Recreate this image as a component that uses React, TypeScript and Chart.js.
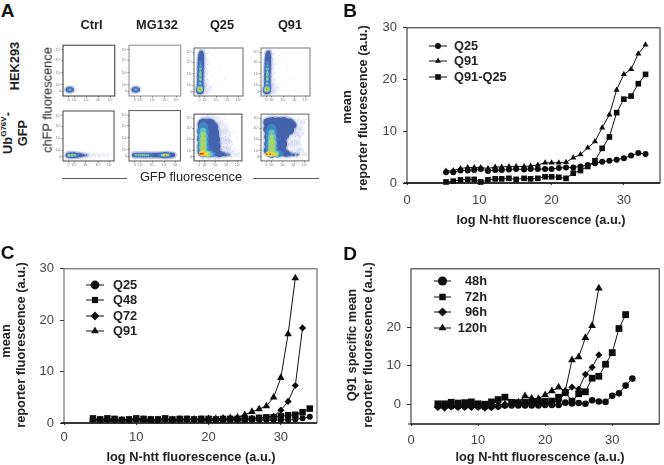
import React, { useEffect, useRef } from "react";
import { Chart, registerables } from "chart.js";
import { drawPoint } from "chart.js/helpers";

Chart.register(...registerables);

const FONT = "'Liberation Sans', Arial, sans-serif";

// ---- Panel B data ----
const xB = [5.4,6.4,7.4,8.4,9.3,10.2,11.2,12.2,13.1,14.1,15.1,16.2,17.1,18.1,19.1,20,21,22,23,24,25,26,27,28,29,30,31,32,33];
const bQ25 = [2.1,2.1,2.4,2.4,2.5,2.7,2.3,2.5,2.5,2.6,2.7,2.6,2.7,2.7,2.7,2.7,2.9,3,3,3.2,3.5,3.8,4.1,4.3,4.5,4.8,5.3,5.8,5.6];
const bQ91 = [2.3,2.4,2.8,3,3,3,2.8,3.1,3.1,3.2,3.2,3.2,3.3,3.5,3.9,3.9,3.9,4,4.9,5.5,6.8,8,10.7,13.2,18,21,22,25,26.7];
const bDiff = [0.2,0.35,0.6,0.7,0.7,0.2,0.6,0.8,0.8,0.9,0.7,0.9,0.8,0.9,1.2,1.2,1.1,0.9,1.9,2.4,3.2,4.3,6.7,8.9,13.6,16.2,16.8,19.2,21];

// ---- Panel C data ----
const xC = [4,5,6,7,8,9,10,11,12,13,14,15,16,17,18,19,20,21,22,23,24,25,26,27,28,29,30,31,32,33,34];
const cQ25 = [0.7,0.6,0.7,0.6,0.5,0.6,0.7,0.6,0.6,0.5,0.7,0.6,0.6,0.7,0.6,0.6,0.6,0.6,0.6,0.6,0.6,0.6,0.6,0.6,0.6,0.6,0.6,0.6,0.7,0.9,1.2];
const cQ48 = [0.9,0.7,0.9,0.8,0.6,0.7,0.9,0.8,0.7,0.7,0.9,0.7,0.8,0.8,0.7,0.8,0.8,0.7,0.8,0.8,0.8,0.8,0.8,1,1.1,1.1,1.3,1.5,1.6,2.1,2.8];
const cQ72 = [0.6,0.5,0.6,0.6,0.6,0.5,0.7,0.6,0.6,0.6,0.7,0.6,0.6,0.7,0.7,0.7,0.7,0.7,0.7,0.8,0.8,0.9,0.9,1,1.1,1.3,2.5,4.2,7.3,18.5];
const cQ91 = [0.6,0.6,0.6,0.6,0.5,0.6,0.7,0.6,0.6,0.6,0.7,0.6,0.7,0.7,0.7,0.7,0.8,0.8,0.9,1,1.1,1.6,2.2,2.7,3.3,5,8.8,17.3,28.2];

// ---- Panel D data ----
const xD = [4,5,6,7,8,9,10,11,12,13,14,15,16,17,18,19,20,21,22,23,24,25,26,27,28,29,30,31,32,33];
const d48 = [-0.5,-0.5,-0.4,-0.5,-0.5,-0.4,-0.5,-0.6,-0.5,-0.4,-0.2,-0.2,-0.2,-0.2,-0.2,-0.2,-0.1,-0.1,-0.1,0.5,0.3,0.4,0.2,1.1,0.8,0.7,2.3,2.9,4.9,6.7];
const d72 = [0.2,0.2,0.6,0.4,0.5,0.7,0.2,0.1,0.7,1.3,1.9,0.6,0.5,0.6,0.7,0.7,0.8,0.9,1.9,3.1,0.9,2.8,3.3,6.8,7.3,10.4,13.4,19.6,23.2];
const d96 = [-0.7,-0.9,-0.6,-0.7,-0.7,-0.7,-0.7,-0.9,-0.8,-0.6,-0.2,0,0,0.1,0.2,0.2,0.4,0.6,0.9,3,4.5,4,7.8,9.6,12.8];
const d120 = [-0.3,-0.3,-0.2,-0.2,-0.1,-0.1,-0.2,-0.3,-0.2,0,0.1,0.3,0.6,2.2,1.6,1.5,2.5,3.5,4.5,3.5,11.5,12.3,17.2,20.3,30];

const yTicksBC = [0, 10, 20, 30];
const yTicksD = [0, 10, 20];
const xTicksAll = [0, 10, 20, 30];

// ---- Panel A: density layers, [x %, y %, bubble r] ----
const miniTickPos = [11, 22, 45, 69, 91];
const miniYTickPos = [9, 22, 46, 70, 91];
const miniTickLabels = ["0", "10²", "10³", "10⁴", "10⁵"];

const spotBlue = [[9,12.5,2.2],[13,12.5,2.6],[17,12.5,2.2]];
const spotMid = [[11,12.5,1.8],[15,12.5,1.8]];
const spotCyan = [[13,12.5,1.2]];
const spotHaze = [[13,12.5,4.2]];

const colBlue = [[12,12,4],[13,20,3.4],[13,28,3.3],[13,36,3.3],[13,44,3.3],[13.5,52,3.3],[13.5,60,3.3],[14,68,3.3],[14,76,3.2],[14.5,84,3],[15,90,2.2]];
const colMid = [[12.5,20,2.6],[13,30,2.3],[13,40,2.3],[13,50,2.3],[13,60,2.2],[13.5,70,1.8]];
const colCyan = [[12,14,3.2],[12.5,26,1.5],[13,36,1.7],[13,46,1.7],[13,56,1.5],[13,64,1.1]];
const colGreen = [[12,14,2.3],[13,34,0.9],[13,42,1],[13,50,0.9]];
const colYellow = [[12,14,1.5]];
const colRed = [[12,14,0.7]];
const colHaze = [[14,12,7],[18,30,6],[18,50,6],[18,70,6],[17,88,5],[28,15,5]];
const colSpecks = [[26,8],[30,14],[34,18],[24,26],[28,34],[26,46],[25,58],[28,66],[24,76],[27,88],[36,40],[42,12],[48,20],[54,62],[38,84],[62,34],[70,14],[30,94],[22,96],[10,4],[20,5]];

const ctrlBandHaze = [[14,11.7,5],[50,11.7,3],[60,11.7,2.2],[70,11.7,2],[80,11.7,1.6],[88,11.7,1.2]];
const ctrlBandBlue = [[10,11.7,2.5],[16,11.7,2.8],[22,11.7,2.8],[28,11.7,2.5],[34,11.7,2.1],[40,11.7,1.5],[46,11.7,0.9]];
const ctrlBandMid = [[11,11.7,2],[17,11.7,2.1],[23,11.7,2],[29,11.7,1.3]];
const ctrlBandCyan = [[12,11.7,1.5],[18,11.7,1.5],[24,11.7,1.2]];
const ctrlBandGreen = [[12,11.7,1],[18,11.7,1],[22,11.7,0.8]];
const ctrlBandYellow = [[11,11.7,0.7]];
const ctrlSpecks = [[52,14],[56,9],[60,13],[64,10],[68,14],[72,10],[76,12],[80,14],[84,10],[88,12],[48,8],[62,16]];

const mgBandHaze = [[12,11.7,4],[30,11.7,4],[50,11.7,4],[72,11.7,4.5],[88,11.7,3]];
const mgBandBlue = [[10,11.7,2.2],[16,11.7,2.4],[22,11.7,2.4],[28,11.7,2.4],[34,11.7,2.4],[40,11.7,2.4],[46,11.7,2.3],[52,11.7,2.3],[58,11.7,2.5],[64,11.7,2.8],[70,11.7,3],[76,11.7,2.8],[82,11.7,2.5],[86,11.7,2]];
const mgBandMid = [[12,11.7,1.8],[20,11.7,1.9],[28,11.7,1.9],[36,11.7,1.9],[44,11.7,1.5],[60,11.7,1.6],[66,11.7,2.2],[72,11.7,2.3],[78,11.7,2]];
const mgBandCyan = [[14,11.7,1.3],[22,11.7,1.4],[30,11.7,1.4],[38,11.7,1.2],[64,11.7,1.4],[70,11.7,1.8],[76,11.7,1.5]];
const mgBandGreen = [[18,11.7,0.9],[26,11.7,1],[34,11.7,0.9],[66,11.7,1.2],[72,11.7,1.4],[76,11.7,1]];
const mgBandYellow = [[68,11.7,1],[73,11.7,1]];
const mgBandRed = [[71,11.7,0.7]];

const q25Haze = [[22,92,4],[34,92,4],[48,85,5],[58,70,7],[62,52,8],[64,34,8],[66,20,6],[80,16,4],[45,6,4],[22,5,3],[92,14,2.5]];
const q25Blue = [[20,78,6],[32,78,6],[39,72,5.5],[19,64,6],[32,64,6.5],[40,60,6],[18,48,5.5],[32,48,6.5],[42,46,6],[18,32,5.2],[32,32,6.5],[43,32,6],[18,20,5.2],[32,20,5.5],[44,20,5],[53,15,3.2],[61,14,2],[67,13,1.4],[73,13,0.9]];
const q25Mid = [[20,74,4.5],[19,62,6],[19,47,6],[20,32,6],[21,21,6],[33,16,3.8],[40,15,2.5]];
const q25Cyan = [[19,64,3.2],[19,53,4.4],[19,41,4.4],[19,29,4.4],[20,19,4.4],[30,15,3.2],[36,14,2]];
const q25Green = [[19,57,2.4],[19,47,3],[19,37,3],[19,27,3],[19,17,3.6],[28,15,2.7]];
const q25Yellow = [[15,15.5,2.4],[21,15.5,2.4],[26,15,1.8],[19,21,1.3]];
const q25Red = [[13,15.5,1],[16,15.5,1],[19,15.5,0.9]];
const q25Specks = [[56,84],[60,78],[66,72],[70,66],[62,62],[68,58],[74,54],[72,46],[66,44],[78,42],[82,36],[70,34],[76,30],[84,26],[72,24],[80,20],[88,22],[94,16],[64,88],[72,80],[78,70],[84,60],[90,48],[60,50],[58,38],[74,38],[68,28],[86,12],[92,10],[50,92],[40,96],[28,97],[76,60],[66,52],[62,30],[58,24],[70,18],[78,10],[56,8],[44,4],[30,3],[18,2]];

const q91Haze = [[75,78,6],[80,62,5],[68,48,8],[70,28,8],[82,20,4],[50,92,4],[20,92,4],[20,5,3],[92,14,2.5],[88,84,3]];
const q91Blue = [[14,82,4.5],[24,82,5.5],[36,82,5.5],[48,82,5.5],[60,80,5],[68,76,3],[14,68,4.5],[26,68,6],[38,68,6],[50,68,6],[60,66,4.5],[18,52,5.5],[30,52,6.5],[42,52,6.5],[52,56,3.5],[18,36,5.5],[30,36,6.5],[42,36,6],[16,22,5],[30,22,6],[42,22,5.5],[52,16,3.4],[60,14,2.2],[68,13,1.5],[76,13,1]];
const q91Mid = [[22,70,4.5],[21,58,6],[22,44,6],[22,30,6.5],[22,19,6],[34,16,4],[42,15,2.6]];
const q91Cyan = [[22,60,3.2],[23,50,4.2],[23,38,4.6],[23,27,4.6],[22,18,4.2],[32,15,3]];
const q91Green = [[23,52,2.2],[23,42,3],[23,33,3.2],[22,23,3.2],[20,16,3.4],[30,15,2.6]];
const q91Yellow = [[13,14.5,2.2],[20,14.5,2.4],[27,14.5,1.8]];
const q91Red = [[12,14.5,0.9],[19,14.5,0.9]];
const q91Specks = [[78,90],[84,86],[90,80],[86,72],[92,68],[82,66],[76,60],[88,58],[72,52],[80,50],[86,44],[66,42],[74,38],[82,34],[62,30],[70,28],[78,24],[88,22],[66,22],[94,14],[86,12],[74,8],[94,88],[60,94],[44,95],[30,96],[62,46],[58,34],[70,58],[90,30],[96,50],[56,8],[40,4],[24,3],[72,18],[80,16]];

const levelColors = ["rgba(90,110,205,0.10)", "#4463ad", "#4583c4", "#62bfc6", "#a8d56a", "#f2d23c", "#d8351c"];
const haloColor = "rgba(70,95,180,0.24)";
const speckColor = "rgba(70,90,190,0.5)";
const haloGrow = 1.6;
const speckR = 0.45;

type Tuple = number[];
function layers(haze: Tuple[], blue: Tuple[], mid: Tuple[], cyan: Tuple[], green: Tuple[], yellow: Tuple[], red: Tuple[], specks: Tuple[] = []) {
  const mk = (pts: Tuple[], order: number, backgroundColor: string, grow = 0) => ({
    type: "bubble" as const,
    order,
    backgroundColor,
    borderWidth: 0,
    data: pts.map((p) => ({ x: p[0], y: p[1], r: (p[2] ?? speckR) + grow })),
  });
  return [
    mk(specks, 30, speckColor),
    mk(blue, 29, haloColor, haloGrow),
    ...[haze, blue, mid, cyan, green, yellow, red].map((pts, i) => mk(pts, 20 - i, levelColors[i])),
  ];
}

const framePlugin = {
  id: "frame",
  afterDraw(chart: any, _a: any, o: any) {
    const { left, top, right, bottom } = chart.chartArea;
    const c = chart.ctx;
    c.save();
    c.strokeStyle = o.color || "#222";
    c.lineWidth = o.width || 1;
    c.strokeRect(left, top, right - left, bottom - top);
    if (o.bottomWidth) {
      c.lineWidth = o.bottomWidth;
      c.strokeStyle = o.bottomColor || "#111";
      c.beginPath();
      c.moveTo(left - 3, bottom);
      c.lineTo(right, bottom);
      c.stroke();
    }
    c.restore();
  },
};

const lineLegendPlugin = {
  id: "lineLegend",
  afterDraw(chart: any, _a: any, o: any) {
    if (!o.ys) return;
    const c = chart.ctx;
    c.save();
    c.font = `bold 12.8px ${FONT}`;
    c.textBaseline = "middle";
    c.textAlign = o.align || "left";
    const order = o.order as number[];
    order.forEach((dsIndex, i) => {
      const ds = chart.data.datasets[dsIndex];
      const y = o.ys[i];
      c.strokeStyle = "#111";
      c.lineWidth = 1;
      c.beginPath();
      c.moveTo(o.x0, y);
      c.lineTo(o.x1, y);
      c.stroke();
      c.fillStyle = "#111";
      c.strokeStyle = "#111";
      drawPoint(c, { pointStyle: ds.pointStyle, rotation: 0, radius: o.legendRadius || ds.pointRadius, borderWidth: 0 } as any, (o.x0 + o.x1) / 2, y);
      c.fillStyle = "#222";
      c.fillText(ds.label, o.tx, y + 0.5);
    });
    c.restore();
  },
};

function series(label: string, xs: number[], ys: number[], pointStyle: string, pointRadius: number, order: number) {
  return {
    label,
    data: ys.map((y, i) => ({ x: xs[i], y })),
    pointStyle,
    pointRadius,
    pointBorderWidth: 0,
    pointBackgroundColor: "#0c0c0c",
    pointBorderColor: "#0c0c0c",
    borderColor: "#111",
    borderWidth: 1,
    tension: 0,
    order,
    clip: false,
  };
}

function fixedTicks(vals: number[]) {
  return (scale: any) => {
    scale.ticks = vals.map((value) => ({ value }));
  };
}

type Box = { left: number; top: number; width: number; height: number };

function PlotCanvas({ box, config, blur }: { box: Box; config: any; blur?: number }) {
  const ref = useRef<HTMLCanvasElement>(null);
  useEffect(() => {
    const chart = new Chart(ref.current!, config);
    return () => chart.destroy();
  }, []);
  return (
    <canvas
      ref={ref}
      width={box.width}
      height={box.height}
      style={{ position: "absolute", left: box.left, top: box.top, width: box.width, height: box.height, filter: blur ? `blur(${blur}px)` : undefined }}
    />
  );
}

function lineConfig(opts: {
  datasets: any[]; xMax: number; yMin: number; yMax: number; yTicks: number[]; box: Box; xPad: number;
  plot: { l: number; t: number; r: number; b: number }; frame: any; legend: any;
}) {
  const { box, plot } = opts;
  return {
    type: "line",
    data: { datasets: opts.datasets },
    plugins: [framePlugin, lineLegendPlugin],
    options: {
      animation: false,
      responsive: false,
      events: [],
      layout: { padding: { top: plot.t - box.top, right: box.left + box.width - plot.r, left: 0, bottom: 0 } },
      plugins: { legend: { display: false }, tooltip: { enabled: false }, frame: opts.frame, lineLegend: opts.legend },
      scales: {
        x: {
          type: "linear", min: 0, max: opts.xMax,
          grid: { display: true, drawOnChartArea: false, drawTicks: true, tickLength: 2, tickColor: "#333", lineWidth: 1 },
          border: { display: false },
          afterBuildTicks: fixedTicks(xTicksAll),
          afterFit: (s: any) => { s.height = box.top + box.height - plot.b; },
          ticks: { color: "#444", padding: opts.xPad, maxRotation: 0, autoSkip: false, font: { family: FONT, size: 13 } },
        },
        y: {
          type: "linear", min: opts.yMin, max: opts.yMax,
          grid: { display: true, drawOnChartArea: false, drawTicks: true, tickLength: 4, tickColor: "#333", lineWidth: 1 },
          border: { display: false },
          afterBuildTicks: fixedTicks(opts.yTicks),
          afterFit: (s: any) => { s.width = plot.l - box.left; },
          ticks: { color: "#444", padding: 6, autoSkip: false, font: { family: FONT, size: 13 } },
        },
      },
    },
  };
}

function miniConfig(ds: any[], frameColor: string) {
  const tick = (labels: string[], pos: number[]) => (v: number) => labels[pos.indexOf(v)] ?? "";
  return {
    type: "bubble",
    data: { datasets: ds },
    plugins: [framePlugin],
    options: {
      animation: false,
      responsive: false,
      events: [],
      layout: { padding: { top: 1, right: 1, left: 0, bottom: 0 } },
      plugins: { legend: { display: false }, tooltip: { enabled: false }, frame: { color: frameColor, width: 1 } },
      scales: {
        x: {
          type: "linear", min: 0, max: 100,
          grid: { display: true, drawOnChartArea: false, tickLength: 1.5, tickColor: "#555", lineWidth: 0.7 },
          border: { display: false },
          afterBuildTicks: fixedTicks(miniTickPos),
          afterFit: (s: any) => { s.height = 8; },
          ticks: { color: "#777", padding: 0.5, maxRotation: 0, autoSkip: false, font: { family: FONT, size: 3.6 }, callback: tick(miniTickLabels, miniTickPos) },
        },
        y: {
          type: "linear", min: 0, max: 100,
          grid: { display: true, drawOnChartArea: false, tickLength: 1.5, tickColor: "#555", lineWidth: 0.7 },
          border: { display: false },
          afterBuildTicks: fixedTicks(miniYTickPos),
          afterFit: (s: any) => { s.width = 12; },
          ticks: { color: "#777", padding: 0.5, autoSkip: false, font: { family: FONT, size: 3.6 }, callback: tick(miniTickLabels, miniYTickPos) },
        },
      },
    },
  };
}

const miniPlots = [
  { left: 63, top: 42, color: "#333", ds: layers(spotHaze, spotBlue, spotMid, spotCyan, [], [], []) },
  { left: 129, top: 42, color: "#888", ds: layers(spotHaze, spotBlue, spotMid, spotCyan, [], [], []) },
  { left: 194, top: 42, color: "#666", ds: layers(colHaze, colBlue, colMid, colCyan, colGreen, colYellow, colRed, colSpecks) },
  { left: 261, top: 42, color: "#777", ds: layers(colHaze, colBlue, colMid, colCyan, colGreen, colYellow, colRed, colSpecks) },
  { left: 63, top: 107, color: "#444", ds: layers(ctrlBandHaze, ctrlBandBlue, ctrlBandMid, ctrlBandCyan, ctrlBandGreen, ctrlBandYellow, [], ctrlSpecks) },
  { left: 129, top: 107, color: "#555", ds: layers(mgBandHaze, mgBandBlue, mgBandMid, mgBandCyan, mgBandGreen, mgBandYellow, mgBandRed) },
  { left: 194, top: 107, color: "#444", ds: layers(q25Haze, q25Blue, q25Mid, q25Cyan, q25Green, q25Yellow, q25Red, q25Specks) },
  { left: 261, top: 107, color: "#666", ds: layers(q91Haze, q91Blue, q91Mid, q91Cyan, q91Green, q91Yellow, q91Red, q91Specks) },
];

const boxB: Box = { left: 330, top: 14, width: 334, height: 200 };
const boxC: Box = { left: 0, top: 255, width: 330, height: 195 };
const boxD: Box = { left: 330, top: 255, width: 334, height: 195 };

const cfgB = lineConfig({
  box: boxB, plot: { l: 407, t: 24, r: 663, b: 183 }, xMax: 35, yMin: 0, yMax: 30, yTicks: yTicksBC, xPad: 8,
  datasets: [
    series("Q25", xB, bQ25, "circle", 3, 3),
    series("Q91", xB, bQ91, "triangle", 3.5, 2),
    series("Q91-Q25", xB, bDiff, "rect", 4, 1),
  ],
  frame: { color: "#222", width: 1, bottomWidth: 1.4 },
  legend: { order: [0, 1, 2], x0: 99, x1: 117, tx: 124, ys: [32, 47, 63] },
});

const cfgC = lineConfig({
  box: boxC, plot: { l: 64, t: 265, r: 317, b: 423 }, xMax: 35, yMin: 0, yMax: 30, yTicks: yTicksBC, xPad: 5,
  datasets: [
    series("Q25", xC, cQ25, "circle", 3, 1),
    series("Q48", xC, cQ48, "rect", 4.6, 2),
    series("Q72", xC, cQ72, "rectRot", 3.6, 3),
    series("Q91", xC, cQ91, "triangle", 4.4, 4),
  ],
  frame: { color: "#555", width: 1, bottomWidth: 1.4 },
  legend: { order: [0, 1, 2, 3], x0: 86, x1: 104, tx: 113, ys: [30, 45, 61, 76], legendRadius: 4.4 },
});

const cfgD = lineConfig({
  box: boxD, plot: { l: 411, t: 266, r: 663, b: 424 }, xMax: 37, yMin: -5, yMax: 35, yTicks: yTicksD, xPad: 6.5,
  datasets: [
    series("48h", xD, d48, "circle", 3.3, 1),
    series("72h", xD, d72, "rect", 4.8, 2),
    series("96h", xD, d96, "rectRot", 3.6, 3),
    series("120h", xD, d120, "triangle", 4.5, 4),
  ],
  frame: { color: "#222", width: 1, bottomWidth: 1.2 },
  legend: { order: [0, 1, 2, 3], x0: 104, x1: 121, tx: 157, align: "right", ys: [26, 42, 57, 73], legendRadius: 4.6 },
});

function Txt({ x, y, children, bold, size, rot, color, align }: any) {
  const tx = align === "left" ? "0" : "-50%";
  return (
    <div
      style={{
        position: "absolute", left: x, top: y, whiteSpace: "nowrap", lineHeight: 1,
        fontFamily: FONT, fontSize: size ?? 12.8, fontWeight: bold ? "bold" : "normal",
        color: color ?? "#222", transform: `translate(${tx},-50%)${rot ? " rotate(-90deg)" : ""}`,
      }}
    >
      {children}
    </div>
  );
}

export default function App() {
  const lines = [
    { left: 62, width: 65 },
    { left: 253, width: 66 },
  ];
  return (
    <div style={{ position: "absolute", left: 0, top: 0, width: 664, height: 465, overflow: "hidden", background: "#fff", filter: "blur(0.3px)" }}>
      {miniPlots.map((p, i) => (
        <PlotCanvas key={i} blur={0.4} box={{ left: p.left - 12, top: p.top - 1, width: 68, height: 63 }} config={miniConfig(p.ds, p.color)} />
      ))}
      <PlotCanvas box={boxB} config={cfgB} />
      <PlotCanvas box={boxC} config={cfgC} />
      <PlotCanvas box={boxD} config={cfgD} />

      <Txt x={7.5} y={10} bold size={19} color="#111">A</Txt>
      <Txt x={350} y={9.5} bold size={19} color="#111">B</Txt>
      <Txt x={7.5} y={252} bold size={19} color="#111">C</Txt>
      <Txt x={350} y={253} bold size={19} color="#111">D</Txt>

      <Txt x={91.5} y={25} bold>Ctrl</Txt>
      <Txt x={157} y={25} bold>MG132</Txt>
      <Txt x={222} y={25} bold>Q25</Txt>
      <Txt x={290} y={25} bold>Q91</Txt>

      <Txt x={15} y={66} bold rot>HEK293</Txt>
      <Txt x={8} y={133} bold rot>Ub<sup style={{ fontSize: 8, lineHeight: 0 }}>G76V</sup>-</Txt>
      <Txt x={23} y={133} bold rot>GFP</Txt>
      <Txt x={48} y={100} rot>chFP fluorescence</Txt>
      <Txt x={191} y={177}>GFP fluorescence</Txt>
      {lines.map((l, i) => (
        <div key={i} style={{ position: "absolute", left: l.left, top: 178, width: l.width, height: 1, background: "#555" }} />
      ))}

      <Txt x={347} y={107} bold rot>mean</Txt>
      <Txt x={363} y={108} bold rot>reporter fluorescence (a.u.)</Txt>
      <Txt x={541} y={220} bold>log N-htt fluorescence (a.u.)</Txt>

      <Txt x={6} y={341} bold rot>mean</Txt>
      <Txt x={21} y={345} bold rot>reporter fluorescence (a.u.)</Txt>
      <Txt x={191} y={457} bold>log N-htt fluorescence (a.u.)</Txt>

      <Txt x={352} y={345} bold rot>Q91 specific mean</Txt>
      <Txt x={368} y={345} bold rot>reporter fluorescence (a.u.)</Txt>
      <Txt x={540} y={457} bold>log N-htt fluorescence (a.u.)</Txt>
    </div>
  );
}
